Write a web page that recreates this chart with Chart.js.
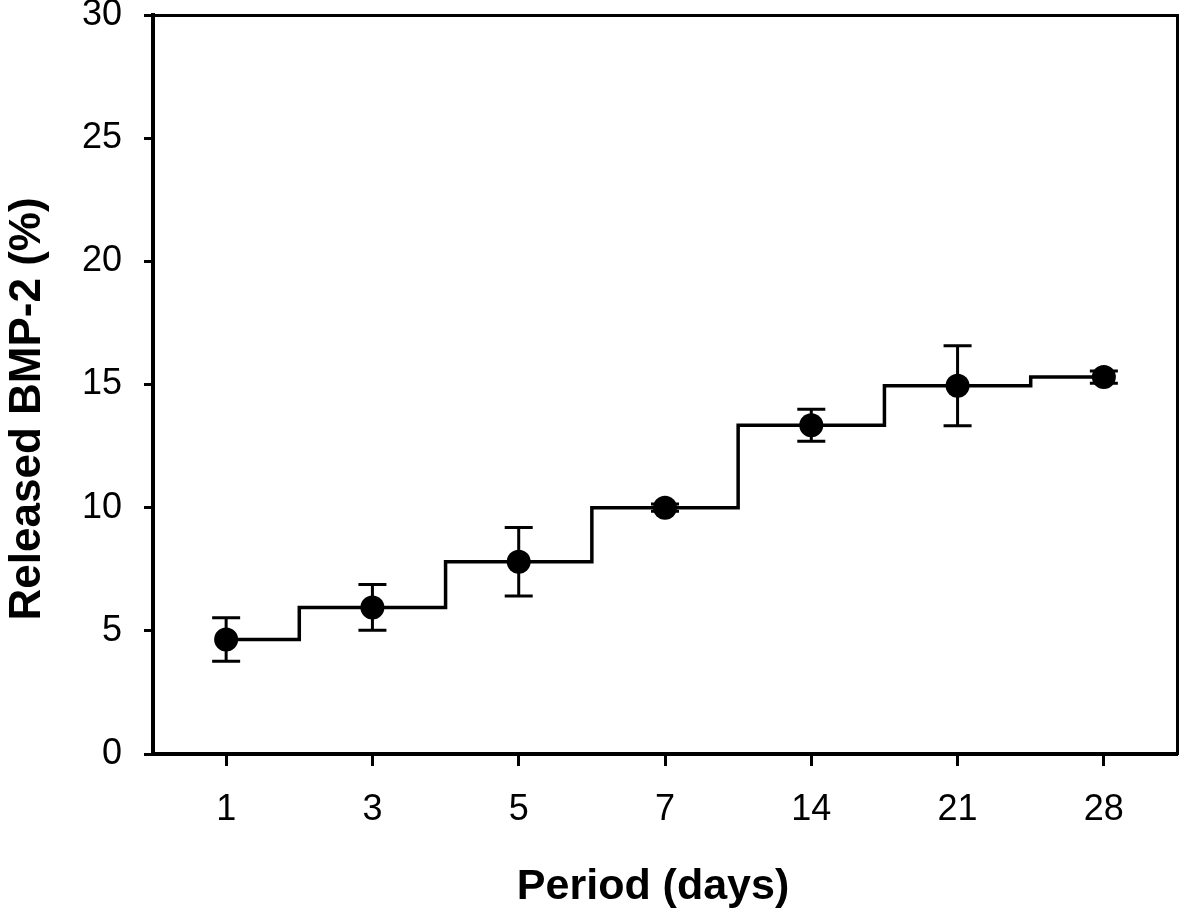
<!DOCTYPE html>
<html>
<head>
<meta charset="utf-8">
<title>Released BMP-2</title>
<script src="https://cdn.jsdelivr.net/npm/chart.js@4/dist/chart.umd.min.js"></script>
<style>
  html, body { margin: 0; padding: 0; background: #fff; }
  #wrap { width: 1189px; height: 916px; }
</style>
</head>
<body>
<div id="wrap"><canvas id="canvas" width="1189" height="916"></canvas></div>
<script>
// days (x categories)
var days = ['1', '3', '5', '7', '14', '21', '28'];
// released BMP-2 (%) and its error (+/-)
var released = [4.65, 5.95, 7.8, 10.0, 13.35, 14.95, 15.3];
var releasedErr = [0.88, 0.93, 1.39, 0.15, 0.65, 1.62, 0.25];
var yTicks = [0, 5, 10, 15, 20, 25, 30];

var FONT = "'Liberation Sans', Arial, sans-serif";

// draws the error bars with the chart's own scales
var errorBars = {
    id: 'errorBars',
    beforeDatasetsDraw: function(chart) {
        var ctx = chart.ctx;
        var xs = chart.scales.x, ys = chart.scales.y;
        ctx.save();
        ctx.strokeStyle = '#000';
        ctx.lineWidth = 3;
        released.forEach(function(v, i) {
            var x = xs.getPixelForValue(i);
            var top = ys.getPixelForValue(v + releasedErr[i]);
            var bot = ys.getPixelForValue(v - releasedErr[i]);
            ctx.beginPath();
            ctx.moveTo(x, top); ctx.lineTo(x, bot);
            ctx.moveTo(x - 14, top); ctx.lineTo(x + 14, top);
            ctx.moveTo(x - 14, bot); ctx.lineTo(x + 14, bot);
            ctx.stroke();
        });
        ctx.restore();
    }
};

var ctx = document.getElementById('canvas').getContext('2d');
var chart = new Chart(ctx, {
    type: 'line',
    data: {
        labels: days,
        datasets: [{
            data: released,
            stepped: 'middle',
            borderColor: '#000',
            borderWidth: 3.5,
            backgroundColor: '#000',
            pointBackgroundColor: '#000',
            pointBorderColor: '#000',
            pointRadius: 12,
            pointBorderWidth: 0,
            fill: false
        }]
    },
    options: {
        responsive: false,
        animation: false,
        devicePixelRatio: 1,
        layout: { padding: { top: 15, right: 12, left: 0, bottom: 0 } },
        plugins: { legend: { display: false }, tooltip: { enabled: false } },
        scales: {
            x: {
                type: 'category',
                offset: true,
                grid: { display: true, drawOnChartArea: false, drawTicks: true, tickLength: 12, tickWidth: 3, tickColor: '#000', offset: false },
                border: { display: true, color: '#000', width: 4 },
                ticks: { color: '#000', font: { family: FONT, size: 36 }, padding: 22, maxRotation: 0 },
                title: { display: true, text: 'Period (days)  ', color: '#000', font: { family: FONT, size: 43, weight: 'bold' }, padding: { top: 0, bottom: 3 } },
                afterFit: function(s) { s.height = 162; s.paddingLeft = 0; s.paddingRight = 0; }
            },
            y: {
                min: 0, max: 30,
                afterBuildTicks: function(s) { s.ticks = yTicks.map(function(v) { return { value: v }; }); },
                grid: { display: true, drawOnChartArea: false, drawTicks: true, tickLength: 9, tickWidth: 3, tickColor: '#000' },
                border: { display: true, color: '#000', width: 4 },
                ticks: { color: '#000', font: { family: FONT, size: 36 }, padding: 22 },
                title: { display: true, text: 'Released BMP-2 (%)    ', color: '#000', font: { family: FONT, size: 44, weight: 'bold' }, padding: { top: 1, bottom: 0 } },
                afterFit: function(s) { s.width = 153; s.paddingTop = 0; s.paddingBottom = 0; }
            },
            x2: {
                type: 'linear', position: 'top', min: 0, max: 1,
                grid: { display: false }, ticks: { display: false },
                border: { display: true, color: '#000', width: 3 },
                afterFit: function(s) { s.height = 0; s.paddingLeft = 0; s.paddingRight = 0; }
            },
            y2: {
                type: 'linear', position: 'right', min: 0, max: 1,
                grid: { display: false }, ticks: { display: false },
                border: { display: true, color: '#000', width: 3 },
                afterFit: function(s) { s.width = 0; s.paddingTop = 0; s.paddingBottom = 0; }
            }
        }
    },
    plugins: [errorBars]
});
</script>
</body>
</html>
